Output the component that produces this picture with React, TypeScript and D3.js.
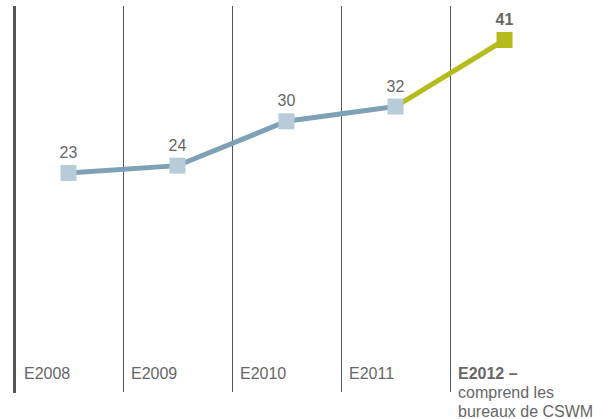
import * as d3 from 'd3'

const categories = ['E2008', 'E2009', 'E2010', 'E2011', 'E2012']
const values = [23, 24, 30, 32, 41]
const noteLines = ['comprend les', 'bureaux de CSWM']

const width = 604
const height = 419
const blue = '#7fa1b6'
const blueMarker = '#b7cbd9'
const green = '#b4bc1d'
const ink = '#666666'
const rule = '#555555'

export default function App() {
  const x = d3.scaleBand<string>().domain(categories).range([14, 559])
  const y = d3.scaleLinear().domain([0, 41]).range([343, 40])
  const cx = (c: string) => (x(c) ?? 0) + x.bandwidth() / 2

  const pts = categories.map((c, i) => ({ c, v: values[i], px: cx(c), py: y(values[i]) }))
  const line = d3.line<{ px: number; py: number }>().x(d => d.px).y(d => d.py)
  const last = pts.length - 1

  return (
    <svg width={width} height={height} style={{ position: 'absolute', left: 0, top: 0, fontFamily: 'Arial, "Liberation Sans", sans-serif' }}>
      {categories.slice(1).map(c => (
        <line key={c} x1={(x(c) ?? 0) + 0.5} x2={(x(c) ?? 0) + 0.5} y1={6} y2={392} stroke={rule} strokeWidth={1} />
      ))}
      <rect x={13} y={6} width={3} height={387} fill={rule} />

      <path d={line(pts.slice(0, last)) ?? ''} fill="none" stroke={blue} strokeWidth={5} />
      <path d={line(pts.slice(last - 1)) ?? ''} fill="none" stroke={green} strokeWidth={5} />

      {pts.map((p, i) => (
        <g key={p.c}>
          <rect x={p.px - 8} y={p.py - 8} width={16} height={16} fill={i === last ? green : blueMarker} />
          <text x={p.px} y={p.py - 15} textAnchor="middle" fontSize={16} fill={ink} fontWeight={i === last ? 'bold' : 'normal'}>
            {p.v}
          </text>
        </g>
      ))}

      {categories.map((c, i) => (
        <text key={c} x={(x(c) ?? 0) + (i === 0 ? 10 : 8)} y={379} fontSize={16} fill={ink} fontWeight={i === last ? 'bold' : 'normal'}>
          {i === last ? `${c} –` : c}
        </text>
      ))}
      {noteLines.map((t, j) => (
        <text key={t} x={(x(categories[last]) ?? 0) + 8} y={398 + j * 19} fontSize={16} fill={ink}>
          {t}
        </text>
      ))}
    </svg>
  )
}
